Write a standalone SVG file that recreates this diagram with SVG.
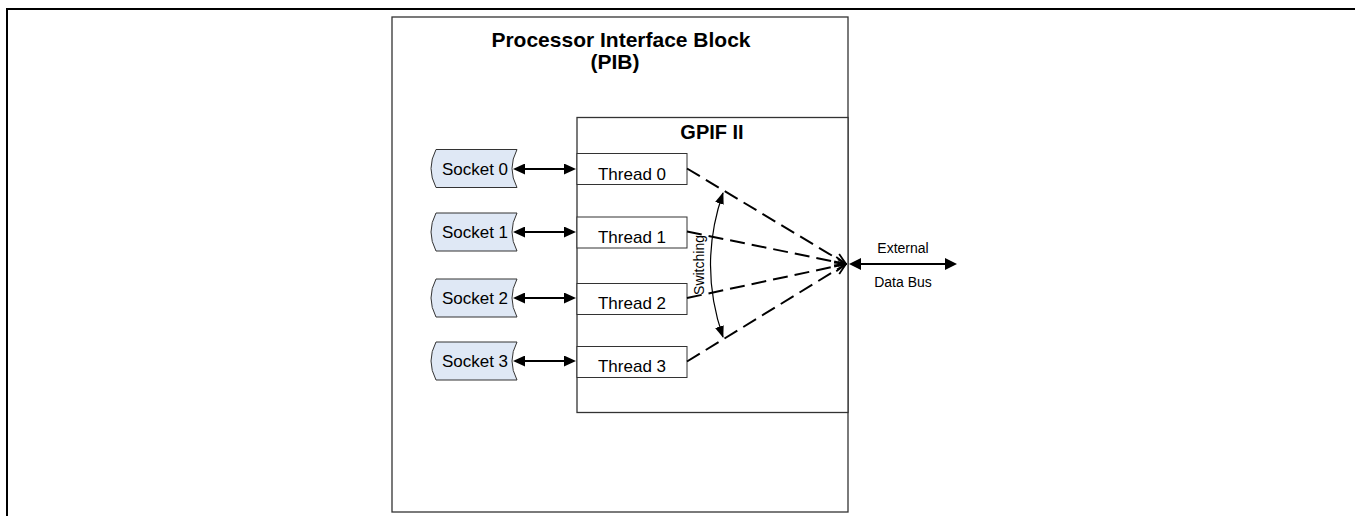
<svg xmlns="http://www.w3.org/2000/svg" width="1355" height="516" viewBox="0 0 1355 516">
  <style>
    text { font-family: "Liberation Sans", Arial, sans-serif; fill: #000; }
    .title { font-size: 21px; font-weight: bold; text-anchor: middle; }
    .gpif { font-size: 20px; font-weight: bold; text-anchor: middle; }
    .lbl { font-size: 17px; text-anchor: middle; }
    .small { font-size: 14px; text-anchor: middle; }
    .box { fill: #fff; stroke: #333; stroke-width: 1.3; }
    .thread { fill: #fff; stroke: #333; stroke-width: 1; }
    .socket { fill: #dfe8f5; stroke: #333; stroke-width: 1; }
    .dbl { stroke: #000; stroke-width: 2; fill: none; marker-start: url(#ah); marker-end: url(#ah); }
    .bus { stroke: #000; stroke-width: 2; fill: none; marker-start: url(#ahb); marker-end: url(#ahb); }
    .dash { stroke: #000; stroke-width: 2; fill: none; stroke-dasharray: 15 7; marker-end: url(#open); }
    .sw { stroke: #000; stroke-width: 1.2; fill: none; marker-start: url(#ahs); marker-end: url(#ahs); }
  </style>
  <defs>
    <marker id="ah" viewBox="0 0 12 11" refX="10" refY="5.5" markerWidth="12" markerHeight="11" markerUnits="userSpaceOnUse" orient="auto-start-reverse">
      <path d="M0,0 L12,5.5 L0,11 z" fill="#000"/>
    </marker>
    <marker id="ahb" viewBox="0 0 12 12" refX="10" refY="6" markerWidth="12" markerHeight="12" markerUnits="userSpaceOnUse" orient="auto-start-reverse">
      <path d="M0,0 L12,6 L0,12 z" fill="#000"/>
    </marker>
    <marker id="ahs" viewBox="0 0 12 9" refX="11" refY="4.5" markerWidth="12" markerHeight="9" markerUnits="userSpaceOnUse" orient="auto-start-reverse">
      <path d="M0,0 L12,4.5 L0,9 z" fill="#000"/>
    </marker>
    <marker id="open" viewBox="0 0 13 13" refX="12" refY="6.5" markerWidth="13" markerHeight="13" markerUnits="userSpaceOnUse" orient="auto">
      <path d="M1,1.5 L12,6.5 L1,11.5" fill="none" stroke="#000" stroke-width="1.8"/>
    </marker>
  </defs>

  <g id="frame">
    <line x1="6" y1="9" x2="1355" y2="9" stroke="#000" stroke-width="2"/>
    <line x1="7" y1="8" x2="7" y2="516" stroke="#000" stroke-width="2"/>
  </g>

  <g id="pib">
    <rect class="box" x="392" y="17" width="456" height="495"/>
    <text class="title" x="621" y="47">Processor Interface Block</text>
    <text class="title" x="615" y="68.5">(PIB)</text>
  </g>

  <g id="gpif">
    <rect class="box" x="577" y="117.5" width="271" height="295"/>
    <text class="gpif" x="712" y="138.5">GPIF II</text>
  </g>

  <g id="socket0">
    <path class="socket" d="M436,149.5 L517,149.5 Q507,168.5 517,187.5 L436,187.5 Q426,168.5 436,149.5 Z"/>
    <text class="lbl" x="475" y="174.5">Socket 0</text>
  </g>
  <g id="socket1">
    <path class="socket" d="M436,213 L517,213 Q507,232 517,251 L436,251 Q426,232 436,213 Z"/>
    <text class="lbl" x="475" y="238">Socket 1</text>
  </g>
  <g id="socket2">
    <path class="socket" d="M436,279 L517,279 Q507,298 517,317 L436,317 Q426,298 436,279 Z"/>
    <text class="lbl" x="475" y="304">Socket 2</text>
  </g>
  <g id="socket3">
    <path class="socket" d="M436,342 L517,342 Q507,361 517,380 L436,380 Q426,361 436,342 Z"/>
    <text class="lbl" x="475" y="367">Socket 3</text>
  </g>

  <g id="thread0">
    <rect class="thread" x="577" y="153.5" width="110" height="31"/>
    <text class="lbl" x="632" y="180">Thread 0</text>
  </g>
  <g id="thread1">
    <rect class="thread" x="577" y="217" width="110" height="31"/>
    <text class="lbl" x="632" y="243">Thread 1</text>
  </g>
  <g id="thread2">
    <rect class="thread" x="577" y="283.5" width="110" height="31"/>
    <text class="lbl" x="632" y="308.5">Thread 2</text>
  </g>
  <g id="thread3">
    <rect class="thread" x="577" y="346.5" width="110" height="31"/>
    <text class="lbl" x="632" y="372">Thread 3</text>
  </g>

  <g id="connectors">
    <line class="dbl" x1="515" y1="169" x2="574" y2="169"/>
    <line class="dbl" x1="515" y1="232" x2="574" y2="232"/>
    <line class="dbl" x1="515" y1="298" x2="574" y2="298"/>
    <line class="dbl" x1="515" y1="361" x2="574" y2="361"/>

    <line class="dash" x1="687" y1="168.5" x2="846" y2="264"/>
    <line class="dash" x1="687" y1="231.5" x2="846" y2="264"/>
    <line class="dash" x1="687" y1="298" x2="846" y2="264"/>
    <line class="dash" x1="687" y1="361.5" x2="846" y2="264"/>

    <path class="sw" d="M723,193 Q698,265 723,337"/>

    <line class="bus" x1="851" y1="264" x2="955" y2="264"/>
  </g>

  <g id="labels">
    <text class="small" transform="translate(704,265) rotate(-90)">Switching</text>
    <text class="small" x="903" y="253">External</text>
    <text class="small" x="903" y="287">Data Bus</text>
  </g>
</svg>
